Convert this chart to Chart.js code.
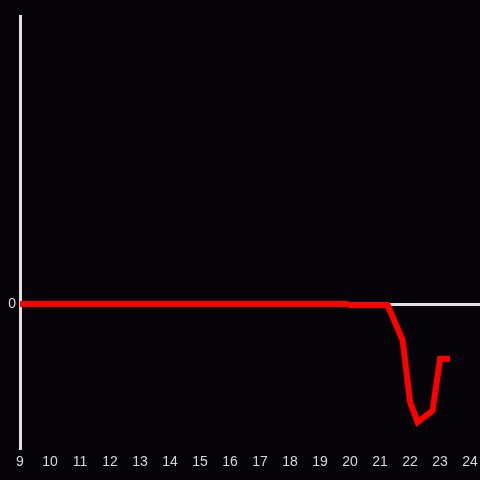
<!DOCTYPE html>
<html lang="en">
<head>
    <meta charset="UTF-8">
    <title>Evening drop</title>
    <script src="https://cdn.jsdelivr.net/npm/chart.js"></script>
    <style>
        body { margin: 0; background: #060408; }
        canvas { display: block; }
    </style>
</head>
<body>
    <canvas id="chart" width="480" height="480"></canvas>

    <script>
        // hour of day and value
        const hours  = [9, 19.9, 20.0, 21.25, 21.75, 22.0, 22.25, 22.75, 23.0, 23.33];
        const values = [0, 0, -0.007, -0.007, -0.25, -0.68, -0.82, -0.74, -0.38, -0.38];
        const xTicks = [9, 10, 11, 12, 13, 14, 15, 16, 17, 18, 19, 20, 21, 22, 23, 24];
        const yTicks = [0];

        const points = hours.map((h, i) => ({ x: h, y: values[i] }));

        const ctx = document.getElementById('chart').getContext('2d');
        const chart = new Chart(ctx, {
            type: 'line',
            data: {
                datasets: [{
                    data: points,
                    borderColor: '#ff0000',
                    borderWidth: 6,
                    pointRadius: 0,
                    tension: 0,
                    fill: false
                }]
            },
            options: {
                responsive: false,
                animation: false,
                devicePixelRatio: 1,
                layout: { padding: { top: 16, right: 0, left: 0, bottom: 0 } },
                plugins: { legend: { display: false }, tooltip: { enabled: false } },
                scales: {
                    x: {
                        type: 'linear',
                        min: 9,
                        max: 24.33,
                        afterBuildTicks: s => { s.ticks = xTicks.map(v => ({ value: v })); },
                        afterFit: s => { s.height = 32; s.paddingRight = 0; s.paddingLeft = 0; },
                        grid: { display: false, drawTicks: false },
                        border: { display: false },
                        ticks: {
                            color: '#d8d8d8',
                            padding: 6,
                            maxRotation: 0,
                            autoSkip: false,
                            font: { family: 'Liberation Sans, Arial', size: 14 }
                        }
                    },
                    y: {
                        min: -1,
                        max: 2,
                        afterBuildTicks: s => { s.ticks = yTicks.map(v => ({ value: v })); },
                        afterFit: s => { s.width = 20; },
                        grid: { color: '#e0e0e0', lineWidth: 3, drawTicks: false },
                        border: { display: true, color: '#e0e0e0', width: 3 },
                        ticks: {
                            color: '#d8d8d8',
                            padding: 4,
                            font: { family: 'Liberation Sans, Arial', size: 14 }
                        }
                    }
                }
            },
            plugins: [{
                id: 'bg',
                beforeDraw: c => {
                    const g = c.ctx;
                    g.save();
                    g.fillStyle = '#060408';
                    g.fillRect(0, 0, c.width, c.height);
                    g.restore();
                }
            }]
        });
    </script>
</body>
</html>
